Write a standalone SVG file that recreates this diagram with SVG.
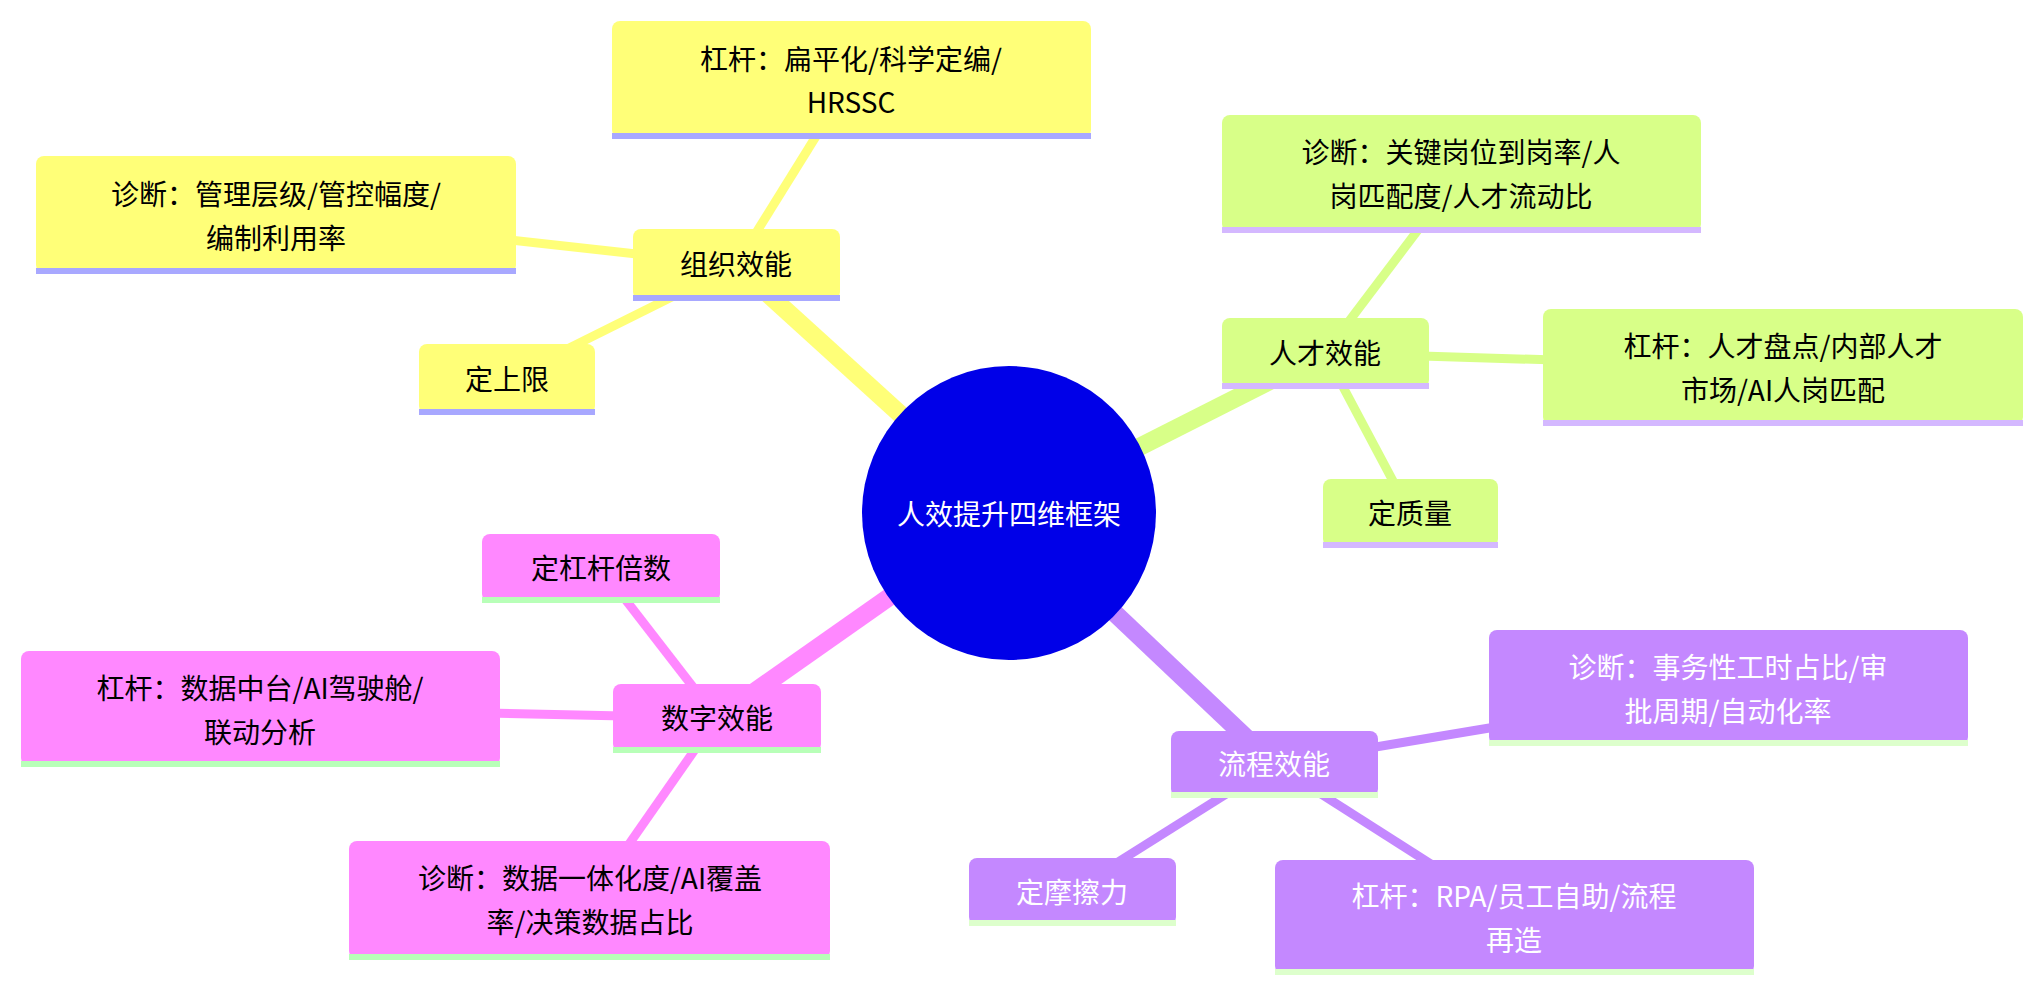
<svg xmlns="http://www.w3.org/2000/svg" width="2042" height="995" viewBox="0 0 2042 995">
<style>
text{font-family:"Noto Sans CJK SC","Noto Sans",sans-serif;font-size:28px;text-anchor:middle;dominant-baseline:central;fill:#000}
.w{fill:#fff}
.y{fill:#ffff78}.ys{fill:#a8a8ff}
.g{fill:#d8ff88}.gs{fill:#d4b8ff}
.p{fill:#c488ff}.ps{fill:#ddffcc}
.k{fill:#ff88ff}.ks{fill:#b8ffb8}
.main{stroke-width:18;stroke-linecap:butt}
.leaf{stroke-width:9}
</style>
<rect width="2042" height="995" fill="#fff"/>
<g id="connectors">
<line class="main" x1="1009" y1="513" x2="736" y2="265" stroke="#ffff78"/>
<line class="leaf" x1="736" y1="265" x2="851" y2="80" stroke="#ffff78"/>
<line class="leaf" x1="736" y1="265" x2="276" y2="214" stroke="#ffff78"/>
<line class="leaf" x1="736" y1="265" x2="507" y2="379" stroke="#ffff78"/>
<line class="main" x1="1009" y1="513" x2="1325" y2="353" stroke="#d8ff88"/>
<line class="leaf" x1="1325" y1="353" x2="1461" y2="173" stroke="#d8ff88"/>
<line class="leaf" x1="1325" y1="353" x2="1783" y2="367" stroke="#d8ff88"/>
<line class="leaf" x1="1325" y1="353" x2="1410" y2="513" stroke="#d8ff88"/>
<line class="main" x1="1009" y1="513" x2="1274" y2="764" stroke="#c488ff"/>
<line class="leaf" x1="1274" y1="764" x2="1728" y2="688" stroke="#c488ff"/>
<line class="leaf" x1="1274" y1="764" x2="1514" y2="917" stroke="#c488ff"/>
<line class="leaf" x1="1274" y1="764" x2="1072" y2="891" stroke="#c488ff"/>
<line class="main" x1="1009" y1="513" x2="717" y2="718" stroke="#ff88ff"/>
<line class="leaf" x1="717" y1="718" x2="601" y2="568" stroke="#ff88ff"/>
<line class="leaf" x1="717" y1="718" x2="260" y2="708" stroke="#ff88ff"/>
<line class="leaf" x1="717" y1="718" x2="590" y2="900" stroke="#ff88ff"/>
</g>
<g id="center"><circle cx="1009" cy="513" r="147" fill="#0000e8"/><text class="w" x="1009" y="513">人效提升四维框架</text></g>
<g id="org"><rect class="y" x="633" y="229" width="207" height="71" rx="8"/><rect class="ys" x="633" y="295" width="207" height="6"/><text x="736" y="263">组织效能</text></g>
<g id="org-lever"><rect class="y" x="612" y="21" width="479" height="117" rx="8"/><rect class="ys" x="612" y="133" width="479" height="6"/><text x="851" y="58">杠杆：扁平化/科学定编/</text><text x="851" y="101">HRSSC</text></g>
<g id="org-diag"><rect class="y" x="36" y="156" width="480" height="117" rx="8"/><rect class="ys" x="36" y="268" width="480" height="6"/><text x="276" y="193">诊断：管理层级/管控幅度/</text><text x="276" y="237">编制利用率</text></g>
<g id="org-limit"><rect class="y" x="419" y="344" width="176" height="70" rx="8"/><rect class="ys" x="419" y="409" width="176" height="6"/><text x="507" y="378">定上限</text></g>
<g id="talent"><rect class="g" x="1222" y="318" width="207" height="70" rx="8"/><rect class="gs" x="1222" y="383" width="207" height="6"/><text x="1325" y="352">人才效能</text></g>
<g id="talent-diag"><rect class="g" x="1222" y="115" width="479" height="117" rx="8"/><rect class="gs" x="1222" y="227" width="479" height="6"/><text x="1461" y="151">诊断：关键岗位到岗率/人</text><text x="1461" y="195">岗匹配度/人才流动比</text></g>
<g id="talent-lever"><rect class="g" x="1543" y="309" width="480" height="116" rx="8"/><rect class="gs" x="1543" y="420" width="480" height="6"/><text x="1783" y="345">杠杆：人才盘点/内部人才</text><text x="1783" y="389">市场/AI人岗匹配</text></g>
<g id="talent-quality"><rect class="g" x="1323" y="479" width="175" height="68" rx="8"/><rect class="gs" x="1323" y="542" width="175" height="6"/><text x="1410" y="512">定质量</text></g>
<g id="process"><rect class="p" x="1171" y="731" width="207" height="66" rx="8"/><rect class="ps" x="1171" y="792" width="207" height="6"/><text class="w" x="1274" y="763">流程效能</text></g>
<g id="process-diag"><rect class="p" x="1489" y="630" width="479" height="115" rx="8"/><rect class="ps" x="1489" y="740" width="479" height="6"/><text class="w" x="1728" y="666">诊断：事务性工时占比/审</text><text class="w" x="1728" y="710">批周期/自动化率</text></g>
<g id="process-lever"><rect class="p" x="1275" y="860" width="479" height="114" rx="8"/><rect class="ps" x="1275" y="969" width="479" height="6"/><text class="w" x="1514" y="895">杠杆：RPA/员工自助/流程</text><text class="w" x="1514" y="939">再造</text></g>
<g id="process-friction"><rect class="p" x="969" y="858" width="207" height="67" rx="8"/><rect class="ps" x="969" y="920" width="207" height="6"/><text class="w" x="1072" y="891">定摩擦力</text></g>
<g id="digital"><rect class="k" x="613" y="684" width="208" height="68" rx="8"/><rect class="ks" x="613" y="747" width="208" height="6"/><text x="717" y="717">数字效能</text></g>
<g id="digital-multi"><rect class="k" x="482" y="534" width="238" height="68" rx="8"/><rect class="ks" x="482" y="597" width="238" height="6"/><text x="601" y="567">定杠杆倍数</text></g>
<g id="digital-lever"><rect class="k" x="21" y="651" width="479" height="115" rx="8"/><rect class="ks" x="21" y="761" width="479" height="6"/><text x="260" y="687">杠杆：数据中台/AI驾驶舱/</text><text x="260" y="731">联动分析</text></g>
<g id="digital-diag"><rect class="k" x="349" y="841" width="481" height="118" rx="8"/><rect class="ks" x="349" y="954" width="481" height="6"/><text x="590" y="877">诊断：数据一体化度/AI覆盖</text><text x="590" y="921">率/决策数据占比</text></g>
</svg>
